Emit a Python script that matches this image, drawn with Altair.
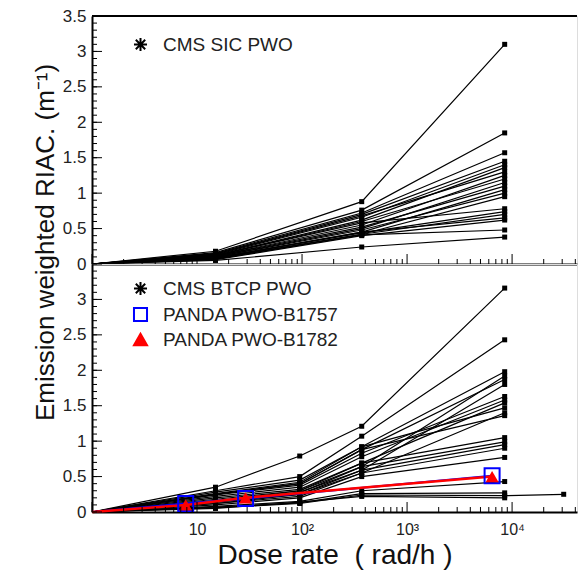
import altair as alt
import pandas as pd

# ---------------- data ----------------
# Top panel: CMS SIC PWO crystals, RIAC at dose rates 1 (zero), ~15, ~370, ~8500 rad/h
sic_dose = [1, 15, 370, 8500]
sic_at_15 = [0.18, 0.16, 0.15, 0.14, 0.13, 0.12, 0.14, 0.11, 0.12, 0.10, 0.11,
             0.09, 0.10, 0.08, 0.12, 0.09, 0.07, 0.08, 0.06, 0.07, 0.05]
sic_at_370 = [0.88, 0.76, 0.72, 0.70, 0.66, 0.62, 0.68, 0.55, 0.60, 0.50, 0.52,
              0.45, 0.48, 0.42, 0.58, 0.44, 0.42, 0.45, 0.40, 0.41, 0.24]
sic_at_8500 = [3.10, 1.85, 1.57, 1.45, 1.40, 1.36, 1.30, 1.25, 1.20, 1.15, 1.10,
               1.05, 1.00, 0.95, 0.78, 0.74, 0.70, 0.65, 0.62, 0.48, 0.38]

# Bottom panel: CMS BTCP PWO crystals at 1 (zero), ~15, ~95, ~370, ~8500 rad/h
btcp_dose = [1, 15, 95, 370, 8500]
btcp_at_15 = [0.35, 0.30, 0.28, 0.15, 0.25, 0.14, 0.24, 0.22, 0.20, 0.26, 0.12,
              0.25, 0.18, 0.16, 0.14, 0.12, 0.10, 0.08, 0.07, 0.06, 0.05]
btcp_at_95 = [0.79, 0.50, 0.45, 0.30, 0.40, 0.28, 0.38, 0.35, 0.32, 0.42, 0.25,
              0.40, 0.30, 0.27, 0.25, 0.22, 0.20, 0.15, 0.13, 0.12, 0.14]
btcp_at_370 = [1.21, 1.07, 0.92, 0.64, 0.88, 0.59, 0.83, 0.78, 0.69, 0.92, 0.55,
               0.88, 0.69, 0.64, 0.59, 0.55, 0.50, 0.30, 0.26, 0.24, 0.22]
btcp_at_8500 = [3.16, 2.43, 1.98, 1.92, 1.87, 1.80, 1.63, 1.58, 1.54, 1.47, 1.40,
                1.36, 1.05, 0.99, 0.95, 0.90, 0.77, 0.43, 0.27, 0.23, 0.20]
btcp_extra_crystal = 19
btcp_extra_dose = 31000
btcp_extra_value = 0.25

# PANDA crystals
panda_dose = [1, 7.8, 29, 6450]
panda_b1757 = [0.0, 0.12, 0.19, 0.51]
panda_b1782 = [0.0, 0.10, 0.20, 0.50]

# axis tick values
y_labels_top = [0, 0.5, 1, 1.5, 2, 2.5, 3, 3.5]
y_labels_bottom = [0, 0.5, 1, 1.5, 2, 2.5, 3]
y_minor = [i / 10 for i in range(36)]
x_labels = [10, 100, 1000, 10000]
x_major = [1, 10, 100, 1000, 10000]
x_minor = [m * 10 ** k for k in range(5) for m in range(2, 10) if m * 10 ** k < 41500]

# ---------------- tables ----------------
rows = []
for i, vals in enumerate(zip(sic_at_15, sic_at_370, sic_at_8500)):
    ys = [0.0] + list(vals)
    for d, v in zip(sic_dose, ys):
        rows.append({"id": i, "x": d, "y": v})
sic_df = pd.DataFrame(rows)

rows = []
for i, vals in enumerate(zip(btcp_at_15, btcp_at_95, btcp_at_370, btcp_at_8500)):
    ys = [0.0] + list(vals)
    for d, v in zip(btcp_dose, ys):
        rows.append({"id": i, "x": d, "y": v})
    if i == btcp_extra_crystal:
        rows.append({"id": i, "x": btcp_extra_dose, "y": btcp_extra_value})
btcp_df = pd.DataFrame(rows)

b1757_df = pd.DataFrame({"x": panda_dose, "y": panda_b1757})
b1782_df = pd.DataFrame({"x": panda_dose, "y": panda_b1782})

W, H = 485, 248
FONT = "Arial"
ASTERISK = "M-1,0L1,0M0,-1L0,1M-0.72,-0.72L0.72,0.72M-0.72,0.72L0.72,-0.72"

xscale = alt.Scale(type="log", domain=[1, 41500], nice=False)
yscale = alt.Scale(domain=[0, 3.5], nice=False, zero=False)

# ---------------- axes ----------------
x_axis_top = alt.Axis(labels=False, ticks=False, title=None, grid=False,
                      domainColor="black", domainWidth=2)
y_axis_top = alt.Axis(values=y_labels_top, format="~g", ticks=False, grid=False,
                      labelOverlap=False, labelFont=FONT, labelFontSize=17,
                      labelColor="#222", labelPadding=6,
                      domainColor="black", domainWidth=2,
                      title="Emission weighted RIAC. (m\u207b\u00b9)",
                      titleFont=FONT, titleFontSize=26, titleFontWeight="normal",
                      titleColor="#111", titlePadding=4, titleY=226)
x_axis_bot = alt.Axis(values=x_labels, ticks=False, grid=False, labelOverlap=False,
                      labelExpr="datum.value == 10 ? '10' : datum.value == 100 ? '10\u00b2' : datum.value == 1000 ? '10\u00b3' : '10\u2074'",
                      labelFont=FONT, labelFontSize=16, labelColor="#222", labelPadding=9,
                      domainColor="black", domainWidth=2,
                      title="Dose rate\u00a0 ( rad/h )", titleFont=FONT, titleFontSize=28,
                      titleFontWeight="normal", titleColor="#111", titlePadding=4)
y_axis_bot = alt.Axis(values=y_labels_bottom, format="~g", ticks=False, grid=False,
                      labelOverlap=False, labelFont=FONT, labelFontSize=17,
                      labelColor="#222", labelPadding=6,
                      domainColor="black", domainWidth=2, title=None)


def panel_encoders(x_axis, y_axis):
    def xe():
        return alt.X("x:Q", scale=xscale, axis=x_axis)

    def ye():
        return alt.Y("y:Q", scale=yscale, axis=y_axis)
    return xe, ye


def tick_layers(xe, ye):
    layers = []
    layers.append(alt.Chart(pd.DataFrame({"y": y_minor})).mark_rule(color="black", strokeWidth=1)
                  .encode(y=ye(), x=alt.value(0), x2=alt.value(5)))
    layers.append(alt.Chart(pd.DataFrame({"y": y_labels_top})).mark_rule(color="black", strokeWidth=1)
                  .encode(y=ye(), x=alt.value(0), x2=alt.value(10)))
    layers.append(alt.Chart(pd.DataFrame({"x": x_minor})).mark_rule(color="black", strokeWidth=1)
                  .encode(x=xe(), y=alt.value(H), y2=alt.value(H - 5)))
    layers.append(alt.Chart(pd.DataFrame({"x": x_major})).mark_rule(color="black", strokeWidth=1)
                  .encode(x=xe(), y=alt.value(H), y2=alt.value(H - 10)))
    return layers


def legend_layer(xe, ye, labels, shapes, strokes, fills, lx, ly):
    df = pd.DataFrame({"label": labels, "x": [None] * len(labels), "y": [None] * len(labels)})
    leg = alt.Legend(title=None, orient="none", legendX=lx, legendY=ly,
                     labelFont=FONT, labelFontSize=19, labelColor="#222", labelLimit=400,
                     symbolStrokeWidth=2, symbolSize=170, labelOffset=13,
                     rowPadding=3)
    return alt.Chart(df).mark_point(filled=False, strokeWidth=2, opacity=1).encode(
        x=xe(), y=ye(),
        shape=alt.Shape("label:N", scale=alt.Scale(domain=labels, range=shapes), legend=leg),
        stroke=alt.Stroke("label:N", scale=alt.Scale(domain=labels, range=strokes), legend=leg),
        fill=alt.Fill("label:N", scale=alt.Scale(domain=labels, range=fills), legend=leg),
    )


# ---------------- top panel ----------------
txe, tye = panel_encoders(x_axis_top, y_axis_top)
top_lines = alt.Chart(sic_df).mark_line(color="black", strokeWidth=1.2).encode(
    x=txe(), y=tye(), detail="id:N")
top_points = alt.Chart(sic_df).transform_filter("datum.x > 1").mark_square(
    size=25, color="black", opacity=1).encode(x=txe(), y=tye())
top_border = alt.Chart(pd.DataFrame({"a": [0]})).mark_rule(color="black", strokeWidth=2).encode(
    x=alt.value(0), x2=alt.value(W), y=alt.value(0))

top = alt.layer(
    top_lines, top_points, *tick_layers(txe, tye), top_border,
    legend_layer(txe, tye, ["CMS SIC PWO"], [ASTERISK], ["black"], ["black"], 39, 19),
).properties(width=W, height=H)

# ---------------- bottom panel ----------------
bxe, bye = panel_encoders(x_axis_bot, y_axis_bot)
bot_lines = alt.Chart(btcp_df).mark_line(color="black", strokeWidth=1.2).encode(
    x=bxe(), y=bye(), detail="id:N")
bot_points = alt.Chart(btcp_df).transform_filter("datum.x > 1").mark_square(
    size=25, color="black", opacity=1).encode(x=bxe(), y=bye())

blue_line = alt.Chart(b1757_df).mark_line(color="#0000ff", strokeWidth=2).encode(x=bxe(), y=bye())
red_line = alt.Chart(b1782_df).mark_line(color="#ff0000", strokeWidth=2.5).encode(x=bxe(), y=bye())
blue_sq = alt.Chart(b1757_df).transform_filter("datum.x > 1").mark_point(
    shape="square", filled=False, size=225, color="#0000ff", strokeWidth=2, opacity=1
).encode(x=bxe(), y=bye())
red_tri = alt.Chart(b1782_df).transform_filter("datum.x > 1").mark_point(
    shape="triangle-up", filled=True, size=170, color="#ff0000", opacity=1
).encode(x=bxe(), y=bye())

bottom = alt.layer(
    bot_lines, bot_points, blue_line, red_line, blue_sq, red_tri, *tick_layers(bxe, bye),
    legend_layer(bxe, bye, ["CMS BTCP PWO", "PANDA PWO-B1757", "PANDA PWO-B1782"],
                 [ASTERISK, "square", "triangle-up"],
                 ["black", "#0000ff", "#ff0000"],
                 ["black", "transparent", "#ff0000"], 39, 15),
).properties(width=W, height=H)

chart = alt.vconcat(top, bottom, spacing=0, bounds="flush").resolve_scale(
    shape="independent", stroke="independent", fill="independent"
).resolve_legend(
    shape="independent", stroke="independent", fill="independent"
).properties(
    padding={"left": 31, "top": 6, "right": 0, "bottom": 2}
).configure_view(stroke=None).configure(background="white")

chart.save("out.html", embed_options={"renderer": "svg", "actions": False})
